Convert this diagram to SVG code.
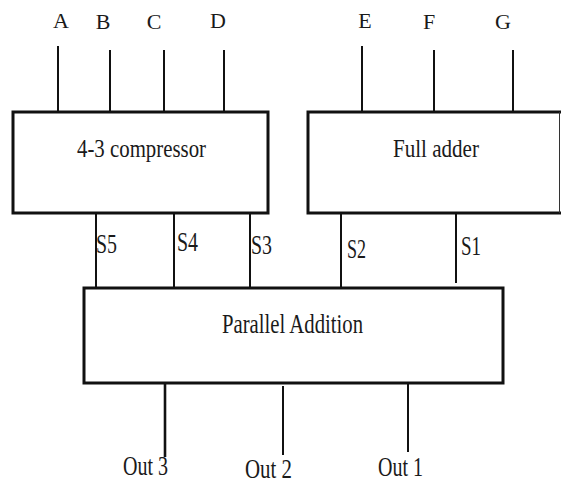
<svg xmlns="http://www.w3.org/2000/svg" width="561" height="484" viewBox="0 0 561 484">
  <style>
    .box { fill: #fff; stroke: #111; stroke-width: 3; }
    .wire { stroke: #111; stroke-width: 2; fill: none; }
    .wire.thick { stroke-width: 2.6; }
    text { font-family: "Liberation Serif", "Times New Roman", serif; fill: #1a1a1a; }
    .pin { font-size: 22px; text-anchor: middle; }
    .title { font-size: 25px; }
    .sig { font-size: 28px; }
    .out { font-size: 27px; }
  </style>
  <rect width="561" height="484" fill="#fff"/>

  <!-- input and output wires -->
  <g id="connectors">
    <line class="wire" x1="58" y1="46" x2="58" y2="112"/>
    <line class="wire" x1="110" y1="50" x2="110" y2="112"/>
    <line class="wire" x1="164" y1="50" x2="164" y2="112"/>
    <line class="wire" x1="224" y1="50" x2="224" y2="112"/>
    <line class="wire" x1="362" y1="46" x2="362" y2="112"/>
    <line class="wire" x1="434" y1="50" x2="434" y2="112"/>
    <line class="wire" x1="513" y1="50" x2="513" y2="112"/>

    <line class="wire" x1="96" y1="206" x2="96" y2="288"/>
    <line class="wire" x1="174" y1="213" x2="174" y2="288"/>
    <line class="wire" x1="250" y1="213" x2="250" y2="288"/>
    <line class="wire" x1="341" y1="213" x2="341" y2="288"/>
    <line class="wire" x1="456" y1="213" x2="456" y2="283"/>

    <line class="wire thick" x1="165" y1="383" x2="165" y2="457"/>
    <line class="wire" x1="283" y1="386" x2="283" y2="455"/>
    <line class="wire" x1="408" y1="383" x2="408" y2="452"/>
  </g>

  <!-- 4-3 compressor -->
  <g id="compressor">
    <rect class="box" x="13" y="112" width="255" height="101"/>
    <text class="title" x="77" y="157" textLength="129" lengthAdjust="spacingAndGlyphs">4-3 compressor</text>
  </g>

  <!-- full adder -->
  <g id="full-adder">
    <rect class="box" x="308" y="112" width="256" height="101"/>
    <line x1="559.5" y1="112" x2="559.5" y2="213" stroke="#333" stroke-width="1"/>
    <text class="title" x="393" y="157" textLength="86" lengthAdjust="spacingAndGlyphs">Full adder</text>
  </g>

  <!-- parallel addition -->
  <g id="parallel-addition">
    <rect class="box" x="84" y="288" width="419" height="95"/>
    <text class="sig" x="222" y="333" textLength="141" lengthAdjust="spacingAndGlyphs">Parallel Addition</text>
  </g>

  <!-- input labels -->
  <g id="inputs">
    <text class="pin" x="61" y="28">A</text>
    <text class="pin" x="103" y="29">B</text>
    <text class="pin" x="154" y="29">C</text>
    <text class="pin" x="218" y="28">D</text>
    <text class="pin" x="365" y="28">E</text>
    <text class="pin" x="429" y="29">F</text>
    <text class="pin" x="503" y="29">G</text>
  </g>

  <!-- intermediate sums -->
  <g id="sums">
    <text class="sig" x="96" y="253" textLength="21" lengthAdjust="spacingAndGlyphs">S5</text>
    <text class="sig" x="177" y="251" textLength="21" lengthAdjust="spacingAndGlyphs">S4</text>
    <text class="sig" x="251" y="254" textLength="21" lengthAdjust="spacingAndGlyphs">S3</text>
    <text class="sig" x="347" y="258" textLength="19" lengthAdjust="spacingAndGlyphs">S2</text>
    <text class="sig" x="461" y="255" textLength="20" lengthAdjust="spacingAndGlyphs">S1</text>
  </g>

  <!-- outputs -->
  <g id="outputs">
    <text class="out" x="123" y="475" textLength="45" lengthAdjust="spacingAndGlyphs">Out 3</text>
    <text class="out" x="245" y="478" textLength="47" lengthAdjust="spacingAndGlyphs">Out 2</text>
    <text class="out" x="378" y="476" textLength="45" lengthAdjust="spacingAndGlyphs">Out 1</text>
  </g>
</svg>
